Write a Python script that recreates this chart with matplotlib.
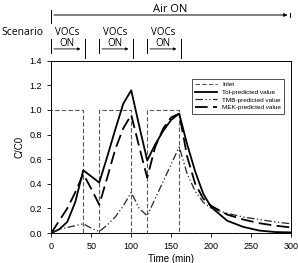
import numpy as np
import matplotlib.pyplot as plt
from matplotlib.transforms import blended_transform_factory

plt.rcParams['font.family'] = ['Liberation Sans', 'DejaVu Sans']

# inlet (step profile)
t_inlet = [0, 0, 40, 40, 60, 60, 100, 100, 120, 120, 160, 160, 300]
c_inlet = [0, 1, 1, 0, 0, 1, 1, 0, 0, 1, 1, 0, 0]

t = [0, 10, 20, 30, 40, 50, 60, 70, 80, 90, 100, 110, 120, 130, 140, 150, 160,
     170, 180, 190, 200, 220, 240, 260, 280, 300]
c_tol = [0, 0.03, 0.09, 0.25, 0.51, 0.46, 0.41, 0.62, 0.84, 1.05, 1.16, 0.87, 0.59,
         0.72, 0.83, 0.92, 0.97, 0.72, 0.50, 0.32, 0.21, 0.10, 0.05, 0.02, 0.008, 0.005]
c_tmb = [0, 0.03, 0.045, 0.06, 0.075, 0.04, 0.012, 0.065, 0.13, 0.22, 0.33, 0.20, 0.14,
         0.28, 0.42, 0.56, 0.70, 0.48, 0.34, 0.25, 0.20, 0.16, 0.13, 0.11, 0.09, 0.075]
c_mek = [0, 0.10, 0.20, 0.33, 0.48, 0.36, 0.23, 0.45, 0.68, 0.85, 0.96, 0.70, 0.45,
         0.70, 0.85, 0.94, 0.97, 0.62, 0.40, 0.28, 0.22, 0.15, 0.11, 0.08, 0.06, 0.045]

# scenario periods (VOCs ON)
voc_on = [(0, 40), (60, 100), (120, 160)]

fig = plt.figure(figsize=(2.98, 2.63), dpi=100)
ax = fig.add_axes([0.172, 0.114, 0.805, 0.655])

ax.plot(t_inlet, c_inlet, color='0.35', ls=(0, (4, 2)), lw=0.8, label='Inlet')
ax.plot(t, c_tol, 'k-', lw=1.3, label='Tol-predicted value')
ax.plot(t, c_tmb, color='0.15', ls=(0, (6, 2, 1, 2, 1, 2)), lw=0.9, label='TMB-predicted value')
ax.plot(t, c_mek, 'k', ls=(0, (7, 3)), lw=1.3, label='MEK-predicted value')

ax.set_xlim(0, 300)
ax.set_ylim(0, 1.4)
ax.set_xticks([0, 50, 100, 150, 200, 250, 300])
ax.set_yticks(np.arange(0, 1.41, 0.2))
ax.set_yticklabels(['%.1f' % v for v in np.arange(0, 1.41, 0.2)])
ax.tick_params(labelsize=6.5, length=3, width=0.6, direction='out', top=False, right=False)
for s in ax.spines.values():
    s.set_linewidth(0.7)
ax.set_xlabel('Time (min)', fontsize=7, labelpad=2)
ax.set_ylabel('C/C0', fontsize=7, labelpad=4)

leg = ax.legend(loc='upper right', fontsize=4.6, frameon=True, fancybox=False,
                edgecolor='k', handlelength=3.5, borderpad=0.5, labelspacing=0.35,
                bbox_to_anchor=(0.985, 0.915))
leg.get_frame().set_linewidth(0.6)

# header annotations: data x, figure y
tr = blended_transform_factory(ax.transData, fig.transFigure)
fig.text(0.57, 0.965, 'Air ON', fontsize=8, ha='center', va='center', family='Open Sans')
ax.plot([0, 0], [0.912, 0.962], color='k', lw=0.7, transform=tr, clip_on=False)
ax.annotate('', xy=(299, 0.943), xytext=(0, 0.943), xycoords=tr, textcoords=tr,
            arrowprops=dict(arrowstyle='-|>', lw=0.7, color='k', mutation_scale=5))
ax.plot([299, 299], [0.935, 0.951], color='k', lw=0.7, transform=tr, clip_on=False)

fig.text(0.005, 0.878, 'Scenario', fontsize=7.5, ha='left', va='center', family='Open Sans')
for a, b in voc_on:
    mid = (a + b) / 2
    ax.text(mid, 0.878, 'VOCs', fontsize=7, ha='center', va='center', transform=tr,
            family='Open Sans')
    ax.text(mid, 0.835, 'ON', fontsize=7, ha='center', va='center', transform=tr,
            family='Open Sans')
    ax.plot([a, a], [0.8, 0.85], color='k', lw=0.7, transform=tr, clip_on=False)
    ax.plot([b + 2, b + 2], [0.78, 0.85], color='k', lw=0.7, transform=tr, clip_on=False)
    ax.annotate('', xy=(b, 0.814), xytext=(a, 0.814), xycoords=tr, textcoords=tr,
                arrowprops=dict(arrowstyle='-|>', lw=0.6, color='k', mutation_scale=4))

plt.savefig('out.png', dpi=100)
